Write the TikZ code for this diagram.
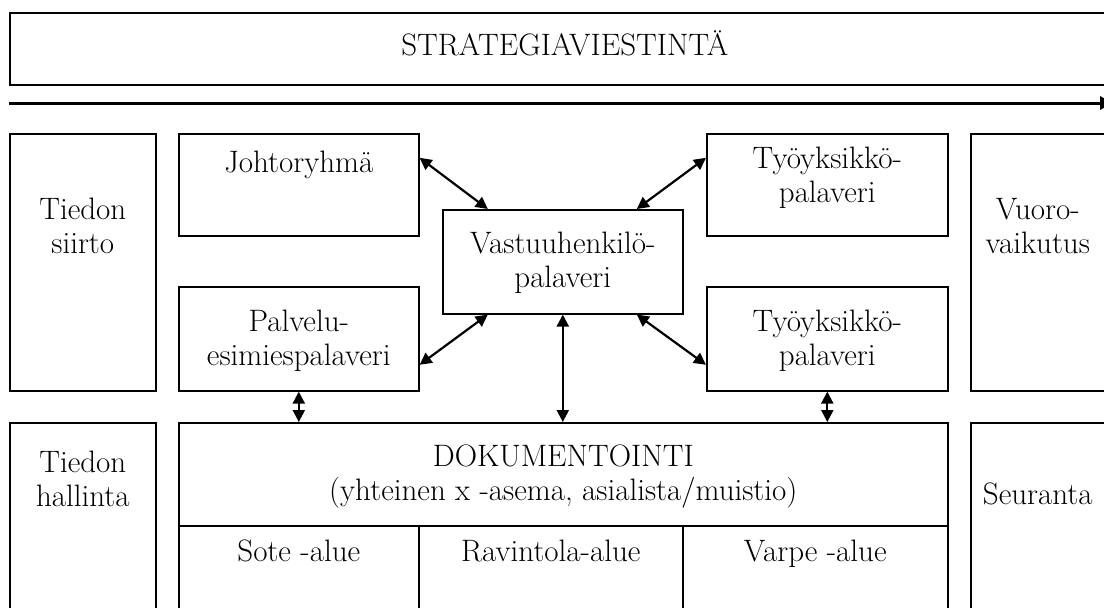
\documentclass[tikz,border=0pt]{standalone}
\usetikzlibrary{arrows.meta,calc}
\begin{document}
\begin{tikzpicture}[x=1pt,y=-1pt,
  box/.style={draw,line width=1.6pt,inner sep=0pt,anchor=north west},
  lbl/.style={font=\fontsize{31}{34}\selectfont,align=center,inner sep=0pt},
  link/.style={line width=2.2pt,{Triangle[length=12pt,width=12pt]}-{Triangle[length=12pt,width=12pt]}}]
\useasboundingbox (0,0) rectangle (1104,608);
\clip (0,0) rectangle (1104,608);

% strategy banner and time arrow
\node[box,minimum width=1110pt,minimum height=72pt] (sv) at (9,12) {};
\node[lbl] at ($(sv.north)+(0,36)$) {STRATEGIAVIESTINTÄ\strut};
\coordinate (ta0) at (9,103);
\coordinate (ta1) at (1113,103);
\draw[line width=3pt,-{Triangle[length=13pt,width=13pt]}] (ta0) -- (ta1);

% side columns
\node[box,minimum width=146pt,minimum height=257pt] (ts) at (9,133) {};
\node[lbl] at ($(ts.north)+(0,97)$) {Tiedon\strut\\siirto\strut};
\node[box,minimum width=146pt,minimum height=257pt] (vv) at (970,133) {};
\node[lbl] at ($(vv.north)+(-6,97)$) {Vuoro-\strut\\vaikutus\strut};
\node[box,minimum width=146pt,minimum height=220pt] (th) at (9,422) {};
\node[lbl] at ($(th.north)+(0,60.5)$) {Tiedon\strut\\hallinta\strut};
\node[box,minimum width=146pt,minimum height=220pt] (se) at (970,422) {};
\node[lbl] at ($(se.north)+(-6,76)$) {Seuranta\strut};

% meetings
\node[box,minimum width=240pt,minimum height=102pt] (jb) at (178,133) {};
\node[lbl] at ($(jb.north)+(0,33)$) {Johtoryhmä\strut};
\node[box,minimum width=240pt,minimum height=104pt] (pb) at (178,286) {};
\node[lbl] at ($(pb.north)+(0,55.5)$) {Palvelu-\strut\\esimiespalaveri\strut};
\node[box,minimum width=240pt,minimum height=104pt] (vb) at (442,209) {};
\node[lbl] at ($(vb.north)+(0,55)$) {Vastuuhenkilö-\strut\\palaveri\strut};
\node[box,minimum width=241pt,minimum height=102pt] (ta) at (706,133) {};
\node[lbl] at ($(ta.north)+(0,45.5)$) {Työyksikkö-\strut\\palaveri\strut};
\node[box,minimum width=241pt,minimum height=104pt] (tb) at (706,286) {};
\node[lbl] at ($(tb.north)+(0,55.5)$) {Työyksikkö-\strut\\palaveri\strut};

% documentation block
\node[box,minimum width=769pt,minimum height=103pt] (dk) at (178,422) {};
\node[lbl] at ($(dk.north)+(0,55)$) {DOKUMENTOINTI\strut\\(yhteinen x -asema, asialista/muistio)\strut};
\node[box,minimum width=240pt,minimum height=110pt] (so) at (178,525) {};
\node[lbl] at ($(so.north)+(0,30)$) {Sote -alue\strut};
\node[box,minimum width=264pt,minimum height=110pt] (ra) at (418,525) {};
\node[lbl] at ($(ra.north)+(0,30)$) {Ravintola-alue\strut};
\node[box,minimum width=265pt,minimum height=110pt] (va) at (682,525) {};
\node[lbl] at ($(va.north)+(0,30)$) {Varpe -alue\strut};

% connectors
\draw[link] ($(jb.east)+(0,-27)$) -- ($(vb.north)+(-75,0)$);
\draw[link] ($(pb.east)+(0,26)$) -- ($(vb.south)+(-75,0)$);
\draw[link] ($(ta.west)+(0,-27)$) -- ($(vb.north)+(74,0)$);
\draw[link] ($(tb.west)+(0,26)$) -- ($(vb.south)+(74,0)$);
\draw[link] (pb.south) -- (pb.south |- dk.north);
\draw[link] (vb.south) -- (vb.south |- dk.north);
\draw[link] (tb.south) -- (tb.south |- dk.north);
\end{tikzpicture}
\end{document}
